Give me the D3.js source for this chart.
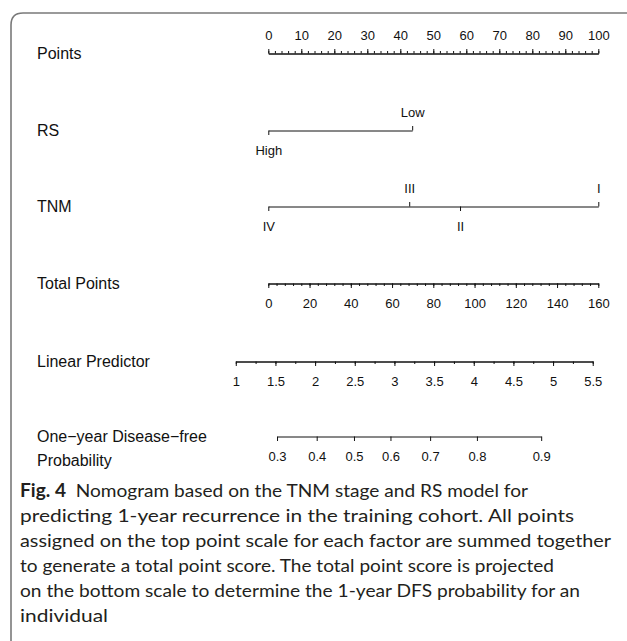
<!DOCTYPE html>
<html>
<head>
<meta charset="utf-8">
<script src="https://cdn.jsdelivr.net/npm/d3@7/dist/d3.min.js"></script>
<style>
  html, body { margin: 0; padding: 0; background: #fff; }
  svg { display: block; }
  .lab { font-family: "Liberation Sans", Arial, Helvetica, sans-serif; fill: #111; }
  .tick text { font-family: "Liberation Sans", Arial, Helvetica, sans-serif; font-size: 13px; fill: #111; }
  .domain, .tick line { stroke: #111; stroke-width: 1; }
  .cap { font-family: Lato, "Open Sans", sans-serif; font-size: 18px; fill: #231f20; }
</style>
</head>
<body>
<script>
// ---- Nomogram data ----
// Points scale
const pointsMajor = [0, 10, 20, 30, 40, 50, 60, 70, 80, 90, 100];
// RS model levels and their points
const rsLevels = ["High", "Low"];
const rsPoints = [0, 43.6];
// TNM stage levels and their points
const tnmLevels = ["IV", "III", "II", "I"];
const tnmPoints = [0, 42.7, 58.1, 100];
// Total points scale
const totalMajor = [0, 20, 40, 60, 80, 100, 120, 140, 160];
// Linear predictor scale and its relation to total points
const lpMajor = [1, 1.5, 2, 2.5, 3, 3.5, 4, 4.5, 5, 5.5];
const lpAtZeroPoints = 1.41;
const pointsPerLP = 38.46;
// One-year disease-free probability ticks and the linear predictor at each
const probTicks = [0.3, 0.4, 0.5, 0.6, 0.7, 0.8, 0.9];
const probLP = [1.52, 2.02, 2.49, 2.95, 3.45, 4.04, 4.85];

const rowLabels = ["Points", "RS", "TNM", "Total Points", "Linear Predictor"];
const probLabel = ["One\u2212year Disease\u2212free", "Probability"];

const captionLines = [
  { bold: "Fig. 4", text: "  Nomogram based on the TNM stage and RS model for", w: 508 },
  { text: "predicting 1-year recurrence in the training cohort. All points", w: 554 },
  { text: "assigned on the top point scale for each factor are summed together", w: 591 },
  { text: "to generate a total point score. The total point score is projected", w: 534 },
  { text: "on the bottom scale to determine the 1-year DFS probability for an", w: 560 },
  { text: "individual", w: 88 }
];

// ---- Layout ----
const W = 627, H = 641;
const rowY = [53.5, 130.5, 206.5, 283.5, 361.5, 436.5];
const plotLeft = 268.3, plotRight = 598.3;
const labelX = 37;

const svg = d3.select("body").append("svg").attr("width", W).attr("height", H);

// Frame: rounded top-left corner, open to the right and bottom
const fx = 11, fy = 13, r = 12;
svg.append("path")
  .attr("d", `M${fx},${H + 5} L${fx},${fy + r} Q${fx},${fy} ${fx + r},${fy} L${W + 5},${fy}`)
  .attr("fill", "none").attr("stroke", "#7a7a7a").attr("stroke-width", 1.6);

// Scales
const xPts = d3.scaleLinear().domain([0, 100]).range([plotLeft, plotRight]);
const xTot = d3.scaleLinear().domain([0, 160]).range([plotLeft, plotRight]);
const lpToTotal = lp => (lp - lpAtZeroPoints) * pointsPerLP;
const xLP = d3.scaleLinear().domain([1, 5.5])
  .range([xTot(lpToTotal(1)), xTot(lpToTotal(5.5))]);

// Numeric axis with major labelled ticks and shorter unlabelled minor ticks
function numericAxis(y, scale, major, minorStep, orient, fmt) {
  const g = svg.append("g").attr("transform", `translate(0,${y})`);
  const make = orient === "top" ? d3.axisTop : d3.axisBottom;
  const dom = scale.domain();
  if (minorStep) {
    const minor = d3.range(dom[0], dom[1] + minorStep / 2, minorStep);
    g.append("g").call(make(scale).tickValues(minor).tickSize(2.5).tickSizeOuter(0).tickFormat(""));
  }
  const padTop = 9, padBottom = 10.5;
  g.append("g").call(make(scale).tickValues(major).tickSize(4.5).tickSizeOuter(0)
    .tickPadding(orient === "top" ? padTop : padBottom).tickFormat(fmt || (d => d)));
  return g;
}

// Categorical axis: labels alternate below/above in order of position
function categoryAxis(y, levels, pts) {
  const order = d3.range(levels.length).sort((a, b) => pts[a] - pts[b]);
  const scale = d3.scaleLinear().domain(d3.extent(pts)).range(d3.extent(pts).map(xPts));
  const below = order.filter((_, k) => k % 2 === 0);
  const above = order.filter((_, k) => k % 2 === 1);
  const g = svg.append("g").attr("transform", `translate(0,${y})`);
  g.append("g").call(d3.axisBottom(scale).tickValues(below.map(i => pts[i]))
    .tickSize(4.5).tickSizeOuter(0).tickPadding(10.5)
    .tickFormat(d => levels[pts.indexOf(d)]));
  g.append("g").call(d3.axisTop(scale).tickValues(above.map(i => pts[i]))
    .tickSize(4.5).tickSizeOuter(0).tickPadding(9)
    .tickFormat(d => levels[pts.indexOf(d)]))
    .select(".domain").remove();
}

numericAxis(rowY[0], xPts, pointsMajor, 2, "top");
categoryAxis(rowY[1], rsLevels, rsPoints);
categoryAxis(rowY[2], tnmLevels, tnmPoints);
numericAxis(rowY[3], xTot, totalMajor, 4, "bottom");
numericAxis(rowY[4], xLP, lpMajor, 0.25, "bottom");

// Probability axis positioned through the linear predictor
const xProb = d3.scaleLinear().domain([probLP[0], probLP[probLP.length - 1]])
  .range([xLP(probLP[0]), xLP(probLP[probLP.length - 1])]);
numericAxis(rowY[5], xProb, probLP, 0, "bottom", (d, i) => probTicks[i].toFixed(1));

// Row labels
svg.selectAll("text.row").data(rowLabels).join("text")
  .attr("class", "lab row").attr("x", labelX).attr("y", (d, i) => rowY[i])
  .attr("dy", "0.36em").attr("font-size", 16).text(d => d);
svg.selectAll("text.prob").data(probLabel).join("text")
  .attr("class", "lab prob").attr("x", labelX).attr("y", (d, i) => rowY[5] + i * 24)
  .attr("dy", "0.36em").attr("font-size", 16).text(d => d);

// Figure caption
const capX = 20, capY0 = 497, capStep = 25;
captionLines.forEach((ln, i) => {
  const t = svg.append("text").attr("class", "cap").attr("x", capX).attr("y", capY0 + i * capStep)
    .attr("textLength", ln.w).attr("lengthAdjust", "spacingAndGlyphs")
    .attr("xml:space", "preserve").style("white-space", "pre");
  if (ln.bold) t.append("tspan").attr("font-weight", "bold").text(ln.bold);
  t.append("tspan").text(ln.text);
});
</script>
</body>
</html>
